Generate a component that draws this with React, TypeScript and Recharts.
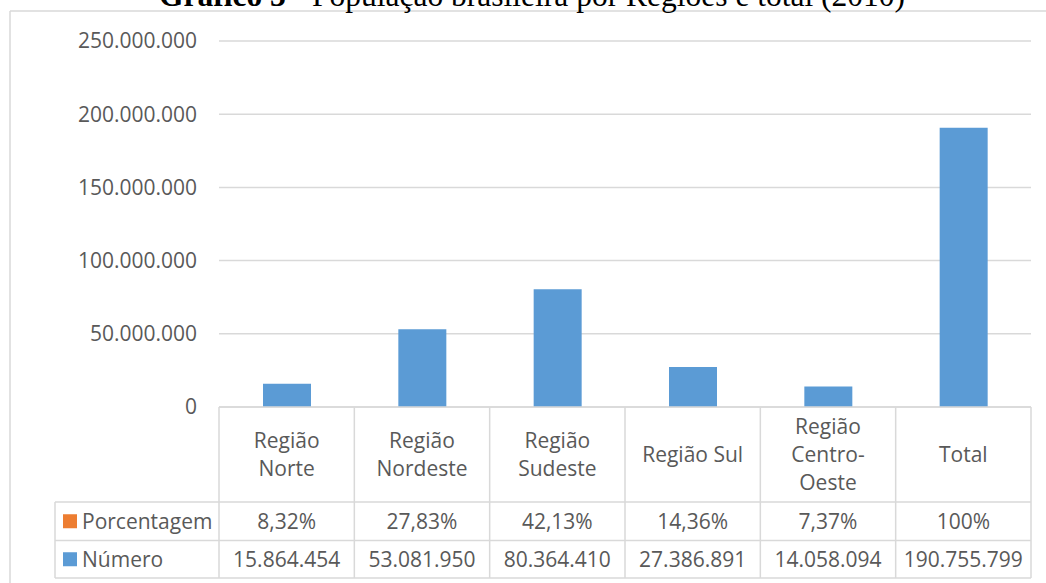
import React from "react";
import { BarChart, Bar, XAxis, YAxis, CartesianGrid } from "recharts";

const categories = ["Região Norte", "Região Nordeste", "Região Sudeste", "Região Sul", "Região Centro-Oeste", "Total"];
const categoryLines = [["Região", "Norte"], ["Região", "Nordeste"], ["Região", "Sudeste"], ["Região Sul"], ["Região", "Centro-", "Oeste"], ["Total"]];
const numero = [15864454, 53081950, 80364410, 27386891, 14058094, 190755799];
const porcentagem = ["8,32%", "27,83%", "42,13%", "14,36%", "7,37%", "100%"];
const yTicks = [0, 50000000, 100000000, 150000000, 200000000, 250000000];
const seriesNames = ["Porcentagem", "Número"];
const seriesColors = ["#ED7D31", "#5B9BD5"];
const title = ["Gráfico 3", " - População brasileira por Regiões e total (2010)"];

const data = categories.map((c, i) => ({ name: c, numero: numero[i], pct: porcentagem[i] }));

const W = 1046;
const H = 583;
const MARGIN = { top: 41, right: 15, bottom: 6, left: 19 };
const Y_AXIS_W = 200;
const X_AXIS_H = 170;
const PLOT_LEFT = MARGIN.left + Y_AXIS_W;
const PLOT_W = W - PLOT_LEFT - MARGIN.right;
const FONT = "'Open Sans', sans-serif";
const TEXT = "#595959";
const LINE = "#D9D9D9";
const FS = 21;
const HEADER_H = 95;
const ROW1_H = 38.5;
const ROW2_H = 37.5;
const LEGEND_W = 164;

const fmt = (v: number) => String(Math.round(v)).replace(/\B(?=(\d{3})+(?!\d))/g, ".");

const CategoryTick = (props: any) => {
  const { x, y, payload } = props;
  const i: number = payload.index;
  const n = categories.length;
  const colW = PLOT_W / n;
  const left = x - colW / 2;
  const right = x + colW / 2;
  const yH = y + HEADER_H;
  const y1 = yH + ROW1_H;
  const y2 = y1 + ROW2_H;
  const lines = categoryLines[i] || [String(payload.value)];
  const lh = 28;
  const cy = y + HEADER_H / 2;
  const startY = cy - ((lines.length - 1) * lh) / 2;
  const plotLeft = x - colW / 2 - i * colW;
  const plotRight = plotLeft + n * colW;
  const legLeft = plotLeft - LEGEND_W;
  return (
    <g>
      <line x1={left} y1={y} x2={left} y2={y2} stroke={LINE} strokeWidth={1.5} />
      {i === n - 1 && <line x1={right} y1={y} x2={right} y2={y2} stroke={LINE} strokeWidth={1.5} />}
      {i === 0 && (
        <g>
          <line x1={plotLeft} y1={y} x2={plotRight} y2={y} stroke={LINE} strokeWidth={1.5} />
          <line x1={legLeft} y1={yH} x2={plotRight} y2={yH} stroke={LINE} strokeWidth={1.5} />
          <line x1={legLeft} y1={y1} x2={plotRight} y2={y1} stroke={LINE} strokeWidth={1.5} />
          <line x1={legLeft} y1={y2} x2={plotRight} y2={y2} stroke={LINE} strokeWidth={1.5} />
          <line x1={legLeft} y1={yH} x2={legLeft} y2={y2} stroke={LINE} strokeWidth={1.5} />
          {seriesNames.map((s, k) => {
            const rc = k === 0 ? yH + ROW1_H / 2 : y1 + ROW2_H / 2;
            return (
              <g key={s}>
                <rect x={legLeft + 8} y={rc - 7} width={14} height={14} fill={seriesColors[k]} />
                <text x={legLeft + 27} y={rc} dy="0.36em" fill={TEXT} fontSize={FS} fontFamily={FONT}>{s}</text>
              </g>
            );
          })}
        </g>
      )}
      {lines.map((l, k) => (
        <text key={k} x={x} y={startY + k * lh} dy="0.36em" textAnchor="middle" fill={TEXT} fontSize={FS} fontFamily={FONT}>{l}</text>
      ))}
      <text x={x} y={yH + ROW1_H / 2} dy="0.36em" textAnchor="middle" fill={TEXT} fontSize={FS} fontFamily={FONT}>{porcentagem[i]}</text>
      <text x={x} y={y1 + ROW2_H / 2} dy="0.36em" textAnchor="middle" fill={TEXT} fontSize={FS} fontFamily={FONT}>{fmt(numero[i])}</text>
    </g>
  );
};

export default function App() {
  return (
    <div style={{ position: "absolute", left: 0, top: 0, width: W, height: H, background: "#fff", overflow: "hidden" }}>
      <svg width={W} height={H} style={{ position: "absolute", left: 0, top: 0 }}>
        <line x1={10} y1={11} x2={W} y2={11} stroke={LINE} strokeWidth={1.5} />
        <line x1={10} y1={11} x2={10} y2={H} stroke={LINE} strokeWidth={1.5} />
        <text x={532} y={6} textAnchor="middle" fontFamily="'Liberation Serif', 'Times New Roman', serif" fontSize={31.5} fill="#000">
          <tspan fontWeight="bold">{title[0]}</tspan>
          <tspan>{title[1]}</tspan>
        </text>
      </svg>
      <div style={{ position: "absolute", left: 0, top: 0 }}>
        <BarChart width={W} height={H} data={data} margin={MARGIN}>
          <CartesianGrid horizontal={true} vertical={false} stroke={LINE} strokeWidth={1.5} />
          <XAxis
            dataKey="name"
            height={X_AXIS_H}
            axisLine={false}
            tickLine={false}
            tickSize={0}
            tickMargin={0}
            interval={0}
            tick={<CategoryTick />}
          />
          <YAxis
            width={Y_AXIS_W}
            domain={[0, 250000000]}
            ticks={yTicks}
            axisLine={false}
            tickLine={false}
            tickSize={0}
            tickMargin={22}
            tickFormatter={fmt}
            tick={{ fill: TEXT, fontSize: FS, fontFamily: FONT }}
          />
          <Bar dataKey="numero" fill="#5B9BD5" barSize={48} isAnimationActive={false} />
        </BarChart>
      </div>
    </div>
  );
}
